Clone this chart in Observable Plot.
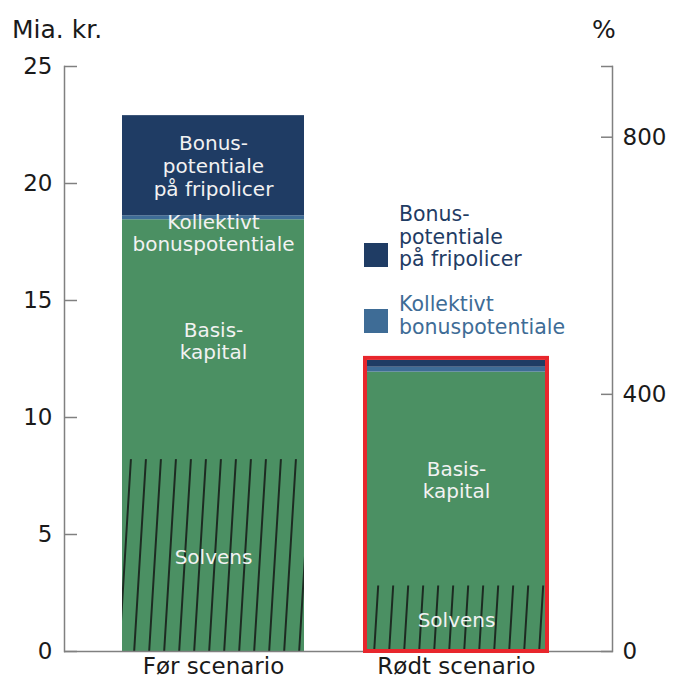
<!DOCTYPE html>
<html><head><meta charset="utf-8">
<script src="https://cdn.jsdelivr.net/npm/d3@7"></script>
<script src="https://cdn.jsdelivr.net/npm/@observablehq/plot@0.6"></script>
<style>
body{margin:0;background:#fff;font-family:"DejaVu Sans",sans-serif;}
#wrap{position:relative;width:675px;height:684px;overflow:hidden;}
.abs{position:absolute;line-height:1;}
.title{font-size:25px;color:#1a1a1a;}
.sw{position:absolute;width:24px;height:24px;}
.lt{position:absolute;font-size:20.5px;line-height:22.5px;white-space:pre;}
</style></head><body><div id="wrap"></div>
<script>
// ---- data ----
const scenarios = ["Før scenario", "Rødt scenario"];
const basiskapital = [18.45, 11.94];
const kollektivt = [0.17, 0.21];
const bonusFripolicer = [4.28, 0.29];
const solvens = [8.2, 2.8];
const yTicks = [0, 5, 10, 15, 20, 25];
const pctTicks = [0, 400, 800];
const pctMax = 910;
const yMax = 25;
const componentNames = ["Basiskapital", "Kollektivt bonuspotentiale", "Bonuspotentiale på fripolicer"];
const componentColors = ["#4b9063", "#3e6c96", "#1f3c64"];
const lblBonus = "Bonus-\npotentiale\npå fripolicer";
const lblKoll = "Kollektivt\nbonuspotentiale";
const lblBasis = "Basis-\nkapital";
const lblSolvens = "Solvens";
const highlighted = "Rødt scenario";

// ---- tables ----
const series = [basiskapital, kollektivt, bonusFripolicer];
const rows = [];
scenarios.forEach((s, i) => componentNames.forEach((c, j) => rows.push({scenario: s, component: c, value: series[j][i]})));
const solvRows = scenarios.map((s, i) => ({scenario: s, value: solvens[i]}));
const totals = scenarios.map((s, i) => ({scenario: s, value: basiskapital[i] + kollektivt[i] + bonusFripolicer[i]}));
const bonusLabels = [{scenario: scenarios[0], y: basiskapital[0] + kollektivt[0] + bonusFripolicer[0] / 2, text: lblBonus}];
const kollLabels = [{scenario: scenarios[0], y: basiskapital[0], text: lblKoll}];
const basisLabels = scenarios.map((s, i) => ({scenario: s, y: (solvens[i] + basiskapital[i]) / 2, text: lblBasis}));
const solvLabels = scenarios.map((s, i) => ({scenario: s, y: solvens[i] / 2, text: lblSolvens}));

const ink = "#1a1a1a", axisGray = "#808080", white = "#f2f2f2";
const fs = 20;

const chart = Plot.plot({
  width: 675, height: 684,
  marginLeft: 64, marginRight: 63, marginTop: 66, marginBottom: 33,
  style: {fontFamily: "DejaVu Sans, sans-serif", background: "transparent"},
  x: {domain: scenarios, paddingInner: 0.25, paddingOuter: 0.25, align: 0.47, label: null},
  y: {domain: [0, yMax], label: null},
  color: {domain: componentNames, range: componentColors},
  marks: [
    Plot.barY(rows, {x: "scenario", y: "value", fill: "component"}),
    Plot.barY(solvRows, {x: "scenario", y: "value", fill: "url(#hatch)"}),
    Plot.text(bonusLabels, {x: "scenario", y: "y", text: "text", fill: white, fontSize: fs, lineHeight: 1.15}),
    Plot.text(kollLabels, {x: "scenario", y: "y", text: "text", fill: white, fontSize: fs, lineHeight: 1.1, lineAnchor: "top", dy: -6}),
    Plot.text(basisLabels, {x: "scenario", y: "y", text: "text", fill: white, fontSize: fs, lineHeight: 1.1, dy: 1}),
    Plot.text(solvLabels, {x: "scenario", y: "y", text: "text", fill: white, fontSize: fs, ariaLabel: "solvens-label", dy: 2}),
    Plot.frame({anchor: "left", stroke: axisGray, strokeWidth: 1.5}),
    Plot.frame({anchor: "right", stroke: axisGray, strokeWidth: 1.5}),
    Plot.ruleY([0], {stroke: axisGray, strokeWidth: 1.5}),
    Plot.barY(totals.filter(d => d.scenario === highlighted), {x: "scenario", y: "value", fill: "none", stroke: "#e8262c", strokeWidth: 4, insetTop: -2}),
    Plot.axisY(yTicks, {anchor: "left", tickSize: -13, tickPadding: 25, fontSize: 23, stroke: axisGray, fill: ink, strokeWidth: 1.5}),
    Plot.axisY([...pctTicks, pctMax].map(p => p * yMax / pctMax), {
      anchor: "right", tickSize: -12, tickPadding: 22, fontSize: 23, stroke: axisGray, fill: ink, strokeWidth: 1.5,
      tickFormat: d => { const p = Math.round(d * pctMax / yMax); return p === pctMax ? "" : String(p); }
    }),
    Plot.axisX({tickSize: 0, tickPadding: 6, fontSize: 23, fill: ink})
  ]
});

const svgNS = "http://www.w3.org/2000/svg";
const defs = document.createElementNS(svgNS, "defs");
defs.innerHTML = '<pattern id="hatch" patternUnits="userSpaceOnUse" width="15" height="40" patternTransform="translate(2,0) skewX(-3.5)"><line x1="7" y1="-2" x2="7" y2="42" stroke="#111" stroke-width="1.6"/></pattern>';
chart.insertBefore(defs, chart.firstChild);

const wrap = document.getElementById("wrap");
wrap.appendChild(chart);

// green backgrounds behind the "Solvens" labels
chart.querySelectorAll('g[aria-label="solvens-label"] text').forEach(t => {
  const b = t.getBBox();
  const r = document.createElementNS(svgNS, "rect");
  r.setAttribute("x", b.x - 5); r.setAttribute("y", b.y + 1);
  r.setAttribute("width", b.width + 10); r.setAttribute("height", b.height + 2);
  r.setAttribute("fill", componentColors[0]);
  if (t.getAttribute("transform")) r.setAttribute("transform", t.getAttribute("transform"));
  t.parentNode.insertBefore(r, t);
});

// titles and legend
function addDiv(cls, text, style) { const d = document.createElement("div"); d.className = cls; d.textContent = text; Object.assign(d.style, style); wrap.appendChild(d); return d; }
addDiv("abs title", "Mia. kr.", {left: "12px", top: "17px"});
addDiv("abs title", "%", {left: "592px", top: "17px"});
addDiv("sw", "", {left: "364px", top: "243px", background: componentColors[2]});
addDiv("lt", lblBonus, {left: "399px", top: "203px", color: componentColors[2]});
addDiv("sw", "", {left: "364px", top: "309px", background: componentColors[1]});
addDiv("lt", lblKoll, {left: "399px", top: "293px", color: componentColors[1]});
</script></body></html>
